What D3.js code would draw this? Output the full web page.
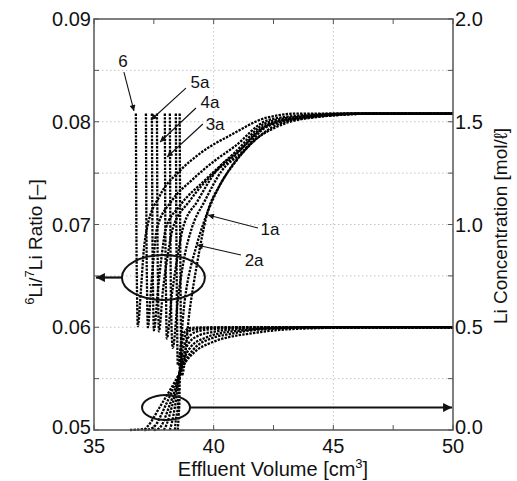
<!DOCTYPE html>
<html><head><meta charset="utf-8">
<script src="https://cdn.jsdelivr.net/npm/d3@7"></script>
<style>
html,body{margin:0;padding:0;background:#fff;}
text{font-family:"Liberation Sans",Arial,Helvetica,sans-serif;fill:#111;}
</style></head>
<body><svg id="c" width="517" height="481"></svg>
<script>
// ---------- data ----------
const xTicks = [35, 40, 45, 50];
const xMinorTicks = [35, 37.5, 40, 42.5, 45, 47.5, 50];
const leftTicks = [0.05, 0.06, 0.07, 0.08, 0.09];
const leftMinorTicks = [0.05, 0.055, 0.06, 0.065, 0.07, 0.075, 0.08, 0.085, 0.09];
const rightTicks = [0.0, 0.5, 1.0, 1.5, 2.0];
const gridY = [0.055, 0.06, 0.065, 0.07, 0.075, 0.08, 0.085];
const gridX = [40, 45];

// 6Li/7Li ratio curves (left axis)
const ratio6  = [[36.75,0.0808],[36.77,0.070],[36.80,0.063],[36.83,0.0601],[36.96,0.0636],[37.08,0.0675],[37.21,0.0696],[37.75,0.0728],[38.58,0.0752],[39.42,0.0769],[40.79,0.0788],[42.21,0.0804],[43.58,0.0808],[50,0.0808]];
const ratio5a = [[37.17,0.0808],[37.19,0.070],[37.22,0.063],[37.25,0.0600],[37.38,0.0636],[37.50,0.0670],[37.63,0.0696],[38.25,0.0723],[39.08,0.0743],[40.04,0.0762],[40.88,0.0776],[42.21,0.0801],[43.58,0.0806],[45.5,0.0808],[50,0.0808]];
const ratio5b = [[37.42,0.0808],[37.44,0.070],[37.47,0.063],[37.50,0.0597],[37.67,0.0636],[37.83,0.0670],[38.00,0.0696],[38.58,0.0718],[39.63,0.0743],[40.88,0.0770],[42.21,0.0799],[43.58,0.0805],[46.08,0.0808],[50,0.0808]];
const ratio4a = [[37.63,0.0808],[37.65,0.070],[37.68,0.063],[37.71,0.0596],[37.88,0.0636],[38.08,0.0670],[38.29,0.0696],[39.00,0.0723],[39.92,0.0748],[40.88,0.0767],[42.21,0.0797],[43.58,0.0804],[46.08,0.0808],[50,0.0808]];
const ratio3a = [[37.96,0.0808],[37.98,0.070],[38.01,0.063],[38.04,0.0589],[38.25,0.0631],[38.50,0.0670],[38.71,0.0696],[39.33,0.0723],[40.17,0.0754],[41.08,0.0772],[42.21,0.0796],[43.58,0.0804],[46.5,0.0808],[50,0.0808]];
const ratio3b = [[38.17,0.0808],[38.19,0.070],[38.22,0.062],[38.29,0.0580],[38.50,0.0626],[38.79,0.0670],[39.08,0.0696],[39.63,0.0723],[40.33,0.0752],[41.17,0.0770],[42.21,0.0795],[43.58,0.0803],[46.5,0.0808],[50,0.0808]];
const ratio2a = [[38.42,0.0808],[38.44,0.070],[38.47,0.061],[38.50,0.0563],[38.79,0.0626],[39.29,0.0680],[39.54,0.0699],[40.04,0.0728],[40.67,0.0754],[41.50,0.0777],[42.33,0.0793],[43.58,0.0803],[46.92,0.0808],[50,0.0808]];
const ratio1a = [[38.58,0.0808],[38.60,0.070],[38.63,0.060],[38.67,0.0553],[39.00,0.0617],[39.33,0.0665],[39.71,0.0709],[40.25,0.0738],[40.88,0.0760],[41.71,0.0782],[42.54,0.0794],[43.79,0.0803],[46.92,0.0808],[50,0.0808]];
const ratioCurves = [ratio6, ratio5a, ratio5b, ratio4a, ratio3a, ratio3b, ratio2a, ratio1a];

// Li concentration curves (right axis)
const conc1 = [[36.5,0],[37.13,0.005],[37.25,0.019],[37.75,0.112],[38.25,0.209],[38.58,0.277],[38.83,0.331],[39.21,0.380],[39.96,0.428],[40.67,0.453],[41.38,0.467],[42.75,0.487],[44.42,0.496],[46.08,0.4995],[50,0.5]];
const conc2 = [[37.1,0],[37.33,0.004],[37.54,0.019],[37.96,0.112],[38.33,0.209],[38.58,0.277],[38.79,0.331],[39.13,0.389],[39.96,0.448],[40.67,0.467],[41.38,0.482],[42.75,0.494],[44.42,0.4995],[50,0.5]];
const conc3 = [[37.5,0],[37.67,0.004],[37.83,0.024],[38.13,0.112],[38.42,0.209],[38.58,0.277],[38.75,0.341],[39.04,0.404],[39.63,0.448],[39.96,0.462],[41.38,0.487],[42.75,0.497],[44.0,0.5],[50,0.5]];
const conc4 = [[37.92,0],[38.04,0.029],[38.25,0.112],[38.46,0.209],[38.58,0.277],[38.71,0.350],[38.96,0.423],[39.42,0.462],[39.96,0.477],[41.38,0.494],[42.75,0.4995],[50,0.5]];
const conc5 = [[38.17,0],[38.25,0.034],[38.38,0.112],[38.50,0.209],[38.58,0.277],[38.67,0.365],[38.88,0.438],[39.25,0.477],[39.96,0.491],[41.38,0.498],[42.5,0.5],[50,0.5]];
const conc6 = [[38.38,0],[38.42,0.049],[38.50,0.112],[38.54,0.195],[38.58,0.277],[38.63,0.380],[38.79,0.453],[39.08,0.487],[39.96,0.498],[41.0,0.5],[50,0.5]];
const conc7 = [[38.50,0],[38.54,0.073],[38.57,0.146],[38.585,0.277],[38.62,0.389],[38.71,0.462],[39.00,0.496],[39.63,0.4995],[50,0.5]];
const concCurves = [conc1, conc2, conc3, conc4, conc5, conc6, conc7];

// curve labels: [text, textX, textY, arrowFromX, arrowFromY, arrowToX, arrowToY] (data units, left axis)
const curveLabels = [
  ["6",  36.21, 0.08533, 36.25, 0.08484, 36.67, 0.08105],
  ["5a", 39.43, 0.08328, 38.84, 0.08328, 37.38, 0.08017],
  ["4a", 39.85, 0.08134, 39.26, 0.08134, 37.76, 0.07803],
  ["3a", 40.06, 0.07920, 39.55, 0.07978, 38.05, 0.07657],
  ["1a", 42.35, 0.06898, 41.85, 0.06966, 39.76, 0.07092],
  ["2a", 41.69, 0.06596, 41.14, 0.06703, 39.30, 0.06800]
];
// ellipses: [cx, cy, rx, ry, arrowToX] (data units, left axis)
const ellipses = [
  [37.90, 0.06484, 1.734, 0.00219, 35.08],
  [38.01, 0.05219, 1.003, 0.00122, 49.96]
];

// ---------- drawing ----------
const svg = d3.select("#c");
const L = 94, R = 453, T = 19, B = 430;
const x = d3.scaleLinear().domain([35, 50]).range([L, R]);
const yL = d3.scaleLinear().domain([0.05, 0.09]).range([B, T]);
const yR = d3.scaleLinear().domain([0, 2]).range([B, T]);

const defs = svg.append("defs");
defs.append("marker").attr("id","ah").attr("viewBox","0 0 10 10").attr("refX",10).attr("refY",5)
  .attr("markerWidth",7).attr("markerHeight",6).attr("markerUnits","userSpaceOnUse").attr("orient","auto")
  .append("path").attr("d","M0,0L10,5L0,10z").attr("fill","#111");
defs.append("marker").attr("id","ahBig").attr("viewBox","0 0 10 10").attr("refX",10).attr("refY",5)
  .attr("markerWidth",12).attr("markerHeight",9).attr("markerUnits","userSpaceOnUse").attr("orient","auto")
  .append("path").attr("d","M0,0L10,5L0,10z").attr("fill","#111");

// grid
svg.append("g").selectAll("line").data(gridY).join("line")
  .attr("x1", L).attr("x2", R).attr("y1", d => yL(d)).attr("y2", d => yL(d))
  .attr("stroke", "#c4c4c4").attr("stroke-width", 1).attr("stroke-dasharray", "1.5,2.5");
svg.append("g").selectAll("line").data(gridX).join("line")
  .attr("x1", d => x(d)).attr("x2", d => x(d)).attr("y1", T).attr("y2", B)
  .attr("stroke", "#c4c4c4").attr("stroke-width", 1).attr("stroke-dasharray", "1.5,2.5");

// ticks (inward, on all sides)
const tk = svg.append("g").attr("stroke", "#555").attr("stroke-width", 1);
xMinorTicks.forEach(v => {
  tk.append("line").attr("x1", x(v)).attr("x2", x(v)).attr("y1", B).attr("y2", B - 5);
  tk.append("line").attr("x1", x(v)).attr("x2", x(v)).attr("y1", T).attr("y2", T + 5);
});
leftMinorTicks.forEach(v => {
  tk.append("line").attr("x1", L).attr("x2", L + 5).attr("y1", yL(v)).attr("y2", yL(v));
  tk.append("line").attr("x1", R).attr("x2", R - 5).attr("y1", yL(v)).attr("y2", yL(v));
});

// curves
const lineL = d3.line().x(d => x(d[0])).y(d => yL(d[1])).curve(d3.curveMonotoneX);
const lineR = d3.line().x(d => x(d[0])).y(d => yR(d[1])).curve(d3.curveMonotoneX);
const cg = svg.append("g").attr("fill", "none").attr("stroke", "#000")
  .attr("stroke-width", 2.3).attr("stroke-dasharray", "2.4,1.2");
cg.selectAll("path.r").data(ratioCurves).join("path").attr("class","r").attr("d", lineL);
cg.selectAll("path.c").data(concCurves).join("path").attr("class","c").attr("d", lineR);

// frame
svg.append("rect").attr("x", L).attr("y", T).attr("width", R - L).attr("height", B - T)
  .attr("fill", "none").attr("stroke", "#555").attr("stroke-width", 1.5);

// tick labels
svg.append("g").selectAll("text").data(xTicks).join("text")
  .attr("x", d => x(d)).attr("y", 453).attr("text-anchor", "middle")
  .attr("font-size", 20).text(d => d);
svg.append("g").selectAll("text").data(leftTicks).join("text")
  .attr("x", 91).attr("y", d => yL(d)).attr("dy", d => d === 0.05 ? "0.2em" : "0.36em").attr("text-anchor", "end")
  .attr("font-size", 20).text(d => d3.format(".2f")(d));
svg.append("g").selectAll("text").data(rightTicks).join("text")
  .attr("x", 455).attr("y", d => yR(d)).attr("dy", d => d === 0 ? "0.2em" : "0.36em").attr("text-anchor", "start")
  .attr("font-size", 20).text(d => d3.format(".1f")(d));

// axis titles
const xt = svg.append("text").attr("x", 273).attr("y", 476).attr("text-anchor", "middle").attr("font-size", 20);
xt.append("tspan").text("Effluent Volume [cm");
xt.append("tspan").attr("font-size", 13).attr("dy", -8).text("3");
xt.append("tspan").attr("dy", 8).text("]");

const ytl = svg.append("text").attr("transform", "translate(42,242) rotate(-90)")
  .attr("text-anchor", "middle").attr("font-size", 19);
ytl.append("tspan").attr("font-size", 13).attr("dy", -8).text("6");
ytl.append("tspan").attr("dy", 8).text("Li/");
ytl.append("tspan").attr("font-size", 13).attr("dy", -8).text("7");
ytl.append("tspan").attr("dy", 8).text("Li Ratio [\u2013]");

svg.append("text").attr("transform", "translate(507,226) rotate(-90)")
  .attr("text-anchor", "middle").attr("font-size", 19).text("Li Concentration [mol/\u2113]");

// curve labels with arrows
const ag = svg.append("g");
curveLabels.forEach(d => {
  ag.append("line").attr("x1", x(d[3])).attr("y1", yL(d[4])).attr("x2", x(d[5])).attr("y2", yL(d[6]))
    .attr("stroke", "#111").attr("stroke-width", 1.1).attr("marker-end", "url(#ah)");
  ag.append("text").attr("x", x(d[1])).attr("y", yL(d[2])).attr("text-anchor", "middle")
    .attr("font-size", 17).text(d[0]);
});

// ellipses with long arrows
ellipses.forEach(e => {
  const cx = x(e[0]), cy = yL(e[1]);
  const rx = x(e[0] + e[2]) - cx, ry = yL(e[1]) - yL(e[1] + e[3]);
  ag.append("ellipse").attr("cx", cx).attr("cy", cy).attr("rx", rx).attr("ry", ry)
    .attr("fill", "none").attr("stroke", "#111").attr("stroke-width", 2);
  const startX = e[4] < e[0] ? cx - rx : cx + rx;
  ag.append("line").attr("x1", startX).attr("y1", cy).attr("x2", x(e[4])).attr("y2", cy)
    .attr("stroke", "#111").attr("stroke-width", 2.2).attr("marker-end", "url(#ahBig)");
});
</script></body></html>
